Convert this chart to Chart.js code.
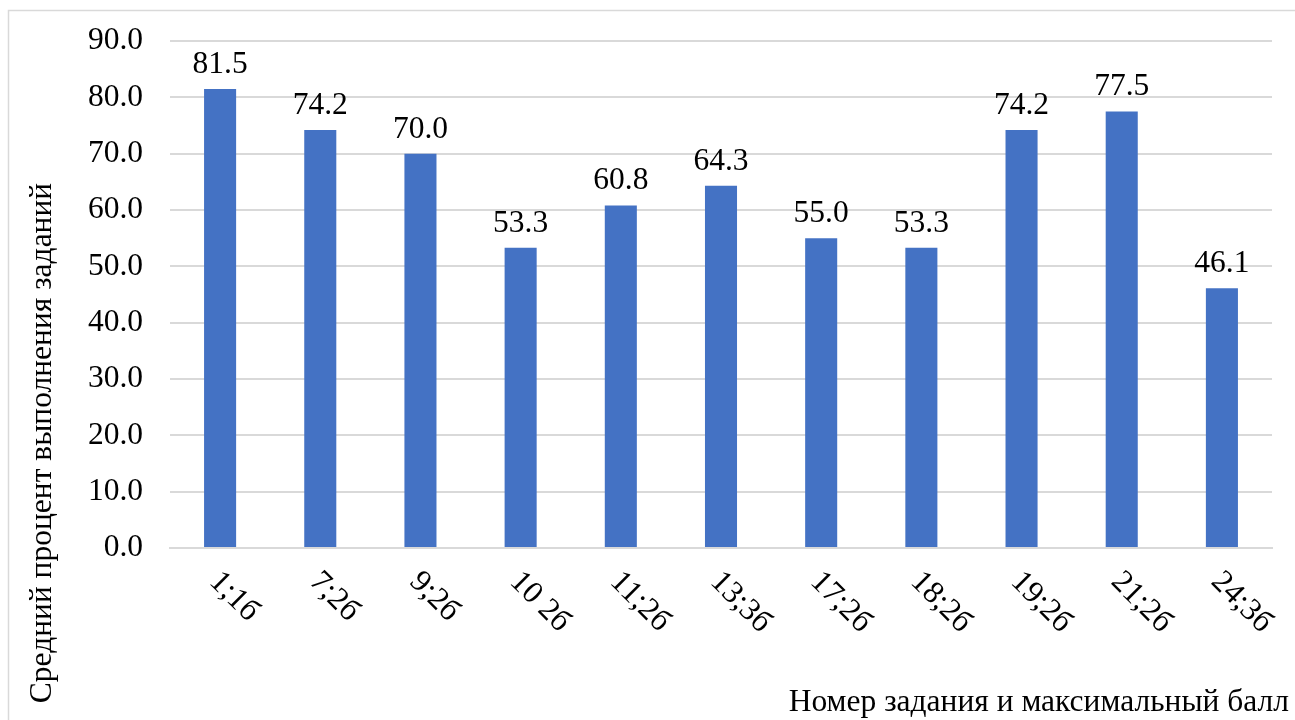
<!DOCTYPE html>
<html>
<head>
<meta charset="utf-8">
<script src="https://cdn.jsdelivr.net/npm/chart.js@4"></script>
<style>
html,body{margin:0;padding:0;background:#fff;}
#wrap{width:1295px;height:720px;position:relative;}
</style>
</head>
<body>
<div id="wrap"><canvas id="c" width="1295" height="720"></canvas></div>
<script>
const categories = ["1;1б","7;2б","9;2б","10 2б","11;2б","13;3б","17;2б","18;2б","19;2б","21;2б","24;3б"];
const values = [81.5,74.2,70.0,53.3,60.8,64.3,55.0,53.3,74.2,77.5,46.1];
const yTicks = [0,10,20,30,40,50,60,70,80,90];
const yTitle = "Средний процент выполнения заданий";
const xTitle = "Номер задания и максимальный балл";

const FONT = "'Liberation Serif', 'Times New Roman', serif";
const FS = 31.5;

const decor = {
  id: 'decor',
  beforeDraw(chart) {
    const ctx = chart.ctx;
    ctx.save();
    ctx.strokeStyle = '#d9d9d9';
    ctx.lineWidth = 1.5;
    ctx.beginPath();
    ctx.moveTo(1300, 10.5);
    ctx.lineTo(8.5, 10.5);
    ctx.lineTo(8.5, 730);
    ctx.stroke();
    ctx.restore();
  },
  afterDraw(chart) {
    const ctx = chart.ctx;
    const xs = chart.scales.x;
    ctx.save();
    ctx.fillStyle = '#000';
    ctx.font = FS + 'px ' + FONT;
    // data labels
    const meta = chart.getDatasetMeta(0);
    ctx.textAlign = 'center';
    ctx.textBaseline = 'alphabetic';
    meta.data.forEach((bar, i) => {
      ctx.fillText(values[i].toFixed(1), bar.x, bar.y - 16);
    });
    // rotated x labels
    ctx.textAlign = 'left';
    ctx.textBaseline = 'middle';
    categories.forEach((lab, i) => {
      const x = xs.getPixelForTick(i);
      ctx.save();
      ctx.translate(x - 6, 577);
      ctx.rotate(Math.PI / 4);
      ctx.fillText(lab, 0, 0);
      ctx.restore();
    });
    // y title
    ctx.save();
    ctx.translate(43, 443);
    ctx.rotate(-Math.PI / 2);
    ctx.textAlign = 'center';
    ctx.textBaseline = 'middle';
    ctx.fillText(yTitle, 0, 0);
    ctx.restore();
    // x title
    ctx.textAlign = 'right';
    ctx.textBaseline = 'middle';
    ctx.fillText(xTitle, 1289, 703);
    ctx.restore();
  }
};

new Chart(document.getElementById('c'), {
  type: 'bar',
  data: {
    labels: categories,
    datasets: [{
      data: values,
      backgroundColor: '#4472C4',
      borderWidth: 0,
      barPercentage: 0.64,
      categoryPercentage: 0.5
    }]
  },
  options: {
    responsive: false,
    animation: false,
    layout: { padding: { left: 0, right: 23, top: 41, bottom: 172 } },
    plugins: { legend: { display: false }, tooltip: { enabled: false } },
    scales: {
      x: {
        grid: { display: false, drawTicks: false },
        border: { display: true, color: '#d9d9d9', width: 2 },
        ticks: { display: false }
      },
      y: {
        min: 0, max: 90,
        afterFit(s) { s.width = 170; s.paddingTop = 0; s.paddingBottom = 0; },
        afterBuildTicks(s) { s.ticks = yTicks.map(v => ({ value: v })); },
        grid: { color: '#d9d9d9', lineWidth: 2, drawTicks: false },
        border: { display: false },
        ticks: {
          padding: 27,
          color: '#000',
          font: { family: FONT, size: FS },
          callback: v => Number(v).toFixed(1)
        }
      }
    }
  },
  plugins: [decor]
});
</script>
</body>
</html>
